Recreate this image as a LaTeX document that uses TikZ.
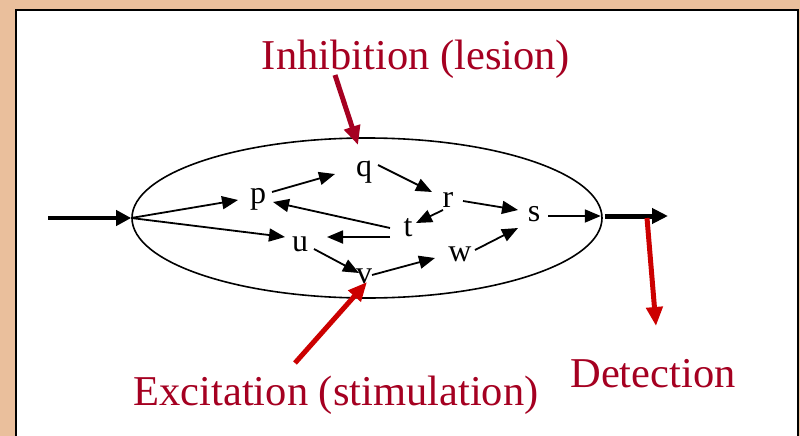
\documentclass[tikz,border=0pt]{standalone}
\usepackage{fontspec}
\setmainfont{Liberation Serif}
\usetikzlibrary{arrows.meta,shapes.geometric}
\definecolor{tanbg}{HTML}{EABF9C}
\definecolor{darkred}{HTML}{A50021}
\definecolor{brightred}{HTML}{CC0000}
\tikzset{
  letter/.style={anchor=base,inner sep=0pt,font=\fontsize{32}{38}\selectfont},
  label/.style={anchor=base,inner sep=0pt,text=darkred,font=\fontsize{42.5}{50}\selectfont},
  link/.style={line width=1.8pt,-{Triangle[length=16pt,width=13pt]}},
  thickin/.style={line width=4pt,-{Triangle[length=15pt,width=15pt]}},
  thickout/.style={line width=5pt,-{Triangle[length=16pt,width=15pt]}},
  redarrow/.style={line width=5pt,-{Triangle[length=19pt,width=16pt]}},
}
\begin{document}
\begin{tikzpicture}[x=1pt,y=-1pt]
\useasboundingbox (0,0) rectangle (800,436);
\clip (0,0) rectangle (800,436);
\fill[tanbg] (0,0) rectangle (800,436);
\draw[line width=2.5pt,fill=white] (16,10) rectangle (798,445);

\node[draw,ellipse,line width=1.6pt,minimum width=470pt,minimum height=160pt,inner sep=0pt] (E) at (367,218) {};

\node[letter] (p) at (258,203) {p};
\node[letter] (q) at (364,176) {q};
\node[letter] (r) at (448,207) {r};
\node[letter] (s) at (534,221) {s};
\node[letter] (t) at (408,236) {t};
\node[letter] (u) at (300,251) {u};
\node[letter] (v) at (364,283) {v};
\node[letter] (w) at (460,261) {w};

\coordinate (in) at (48,218);
\coordinate (out) at (668,216);

\draw[thickin] (in) -- (E.west);
\draw[thickout] ([shift={(2,-2)}]E.east) -- (out);

\draw[link] (E.west) -- ([shift={(-20,-3)}]p.base);
\draw[link] (E.west) -- ([shift={(-15,-14)}]u.base);
\draw[link] ([shift={(14,-11)}]p.base) -- ([shift={(-29,-2)}]q.base);
\draw[link] ([shift={(14,-11)}]q.base) -- ([shift={(-16,-15)}]r.base);
\draw[link] ([shift={(15,-6)}]r.base) -- ([shift={(-16,-11)}]s.base);
\draw[link] ([shift={(-5,3)}]r.base) -- ([shift={(8,-13)}]t.base);
\draw[link] ([shift={(-18,-8)}]t.base) -- ([shift={(15,-1)}]p.base);
\draw[link] ([shift={(-18,1)}]t.base) -- ([shift={(27,-14)}]u.base);
\draw[link] ([shift={(14,-2)}]u.base) -- ([shift={(-5,-10)}]v.base);
\draw[link] ([shift={(8,-8)}]v.base) -- ([shift={(-25,-3)}]w.base);
\draw[link] ([shift={(15,-11)}]w.base) -- ([shift={(-16,7)}]s.base);
\draw[link] ([shift={(14,-5)}]s.base) -- ([shift={(-2,-2)}]E.east);

\node[label] (inh) at (416,70) {Inhibition (lesion)};
\node[label] (exc) at (336,405) {Excitation (stimulation)};
\node[label] (det) at (653,387) {Detection};

\coordinate (inhs) at (335,75);
\coordinate (inhe) at (358,145);
\coordinate (excs) at (295,363);
\coordinate (exce) at (367,282);
\coordinate (dets) at (647,218);
\coordinate (dete) at (656,326);

\draw[redarrow,draw=darkred,fill=darkred] (inhs) -- (inhe);
\draw[redarrow,draw=brightred,fill=brightred] (excs) -- (exce);
\draw[redarrow,draw=brightred,fill=brightred] (dets) -- (dete);
\end{tikzpicture}
\end{document}
